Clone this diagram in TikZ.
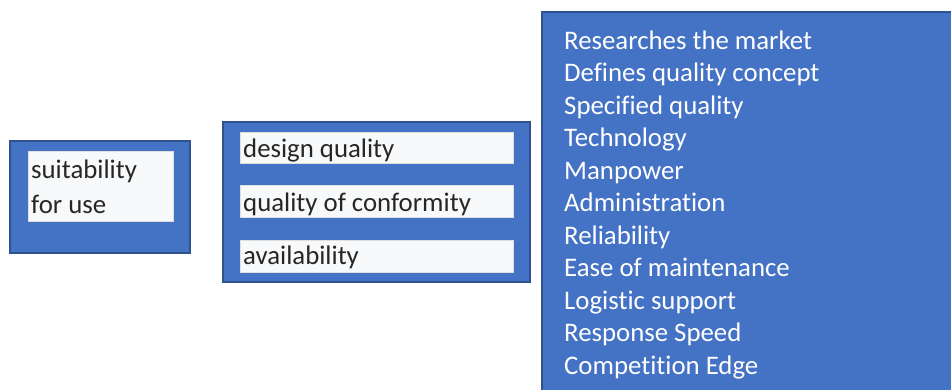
\documentclass[tikz,border=0pt]{standalone}
\usepackage{fontspec}
\setmainfont{Carlito}[Ligatures={NoCommon}]
\definecolor{boxblue}{HTML}{4472C4}
\definecolor{boxedge}{HTML}{2F528F}
\definecolor{paper}{HTML}{F8F9FA}
\definecolor{ink}{HTML}{262626}
\tikzset{
  outerbox/.style={draw=boxedge, fill=boxblue, line width=1.5pt},
  innerbox/.style={draw=white!75!gray, fill=paper, line width=0.6pt},
  darktext/.style={anchor=base west, inner sep=0pt, text=ink, font=\fontsize{26.8}{32}\selectfont},
  lighttext/.style={anchor=base west, inner sep=0pt, text=white, font=\fontsize{26.8}{32}\selectfont}
}
\begin{document}
\begin{tikzpicture}[x=1pt, y=-1pt]
        \useasboundingbox (0,0) rectangle (951,389);

        % suitability for use
        \filldraw[outerbox] (10,141) rectangle (190,253);
        \filldraw[innerbox] (28,151) rectangle (173,221);
        \node[darktext] (suit) at (31,178) {suitability};
        \node[darktext] (foruse) at (31,213) {for use};

        % three kinds of quality
        \filldraw[outerbox] (223,122) rectangle (530,282);
        \filldraw[innerbox] (240,132) rectangle (513,163);
        \filldraw[innerbox] (240,185) rectangle (513,217);
        \filldraw[innerbox] (240,240) rectangle (513,272);
        \node[darktext] (design) at (243,157) {design quality};
        \node[darktext] (conform) at (243,211) {quality of conformity};
        \node[darktext] (avail) at (243,264) {availability};

        % list of factors
        \filldraw[outerbox] (542,12) rectangle (955,393);
        \foreach \txt [count=\i] in {Researches the market, Defines quality concept,
            Specified quality, Technology, Manpower, Administration, Reliability,
            Ease of maintenance, Logistic support, Response Speed, Competition Edge}
            \node[lighttext] (item\i) at (564,{49+32.5*(\i-1)}) {\txt};
\end{tikzpicture}
\end{document}
